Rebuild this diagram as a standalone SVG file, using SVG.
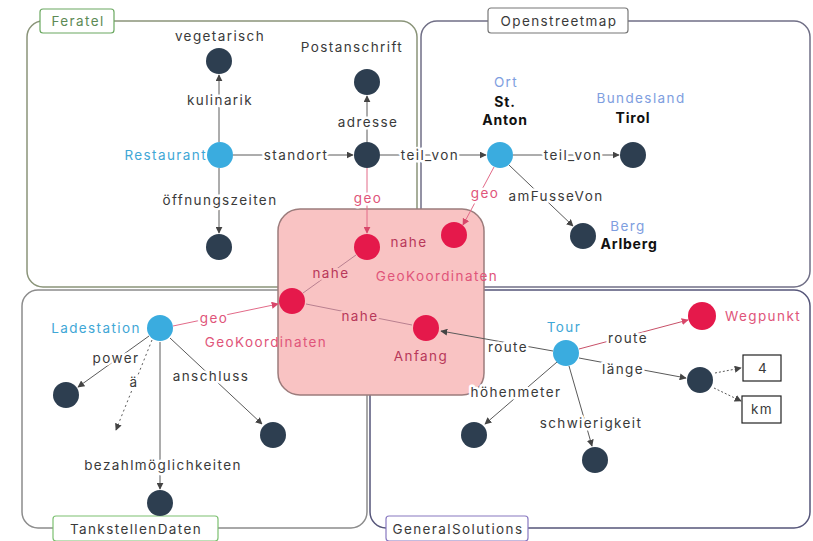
<svg xmlns="http://www.w3.org/2000/svg" width="813" height="541" viewBox="0 0 813 541">
  <defs>
    <marker id="arr" viewBox="0 0 10 10" refX="9" refY="5" markerWidth="7" markerHeight="7" orient="auto-start-reverse" markerUnits="userSpaceOnUse">
      <path d="M0,0 L10,5 L0,10 z" fill="#444"/>
    </marker>
    <marker id="arrp" viewBox="0 0 10 10" refX="9" refY="5" markerWidth="7" markerHeight="7" orient="auto-start-reverse" markerUnits="userSpaceOnUse">
      <path d="M0,0 L10,5 L0,10 z" fill="#d8476a"/>
    </marker>
    <style>
      text { font-family: Inter, "Open Sans", "DejaVu Sans", sans-serif; font-size: 13.5px; letter-spacing: 1.4px; text-anchor: middle; dominant-baseline: central; fill: #3a3a3a; }
      .h { paint-order: stroke; stroke: #fff; stroke-width: 5px; stroke-linejoin: round; }
      .hp { paint-order: stroke; stroke: #f9c3c3; stroke-width: 5px; stroke-linejoin: round; }
      .blue { fill: #3fa7d6; }
      .peri { fill: #7e9ee0; }
      .pink { fill: #e0557a; }
      .dpink { fill: #b8385a; }
      .bold { font-weight: 700; fill: #111; font-size: 14px; letter-spacing: 0.8px; }
      .dark { fill: #2d3e50; }
      .nblue { fill: #3aacdf; }
      .nred { fill: #e5194b; }
      .e { stroke: #5a5a5a; stroke-width: 1; fill: none; }
      .g { stroke: #e26a88; stroke-width: 1; fill: none; }
      .f { stroke: #b98090; stroke-width: 1; fill: none; }
      .a { marker-end: url(#arr); }
      .ap { marker-end: url(#arrp); }
      .grp { fill: none; stroke-width: 1.5; }
      .tag { fill: #fff; stroke-width: 1.2; }
      .val { fill: #fff; stroke: #222; stroke-width: 1.2; }
    </style>
  </defs>

  <!-- group frames -->
  <g id="frames">
    <rect class="grp" x="27" y="21" width="390" height="266" rx="16" stroke="#8a9479"/>
    <rect class="grp" x="421" y="21" width="389" height="266" rx="16" stroke="#706f86"/>
    <rect class="grp" x="22" y="290" width="345" height="238" rx="16" stroke="#8c8c8c"/>
    <rect class="grp" x="370" y="290" width="440" height="238" rx="16" stroke="#56567a"/>
  </g>

  <!-- shared coordinate area -->
  <rect id="geo-area" x="278" y="209" width="206" height="186" rx="22" fill="#f9c3c3" stroke="#9c7c7c" stroke-width="1.5"/>

  <!-- frame tags -->
  <g id="tag-feratel">
    <rect class="tag" x="40" y="9" width="74" height="24" rx="3" stroke="#6aa860"/>
    <text x="78" y="21" style="fill:#5d8a55">Feratel</text>
  </g>
  <g id="tag-osm">
    <rect class="tag" x="488" y="8" width="140" height="25" rx="3" stroke="#777"/>
    <text x="559" y="21">Openstreetmap</text>
  </g>
  <g id="tag-tankstellen">
    <rect class="tag" x="53" y="516" width="165" height="25" rx="3" stroke="#7cc070"/>
    <text x="136" y="529">TankstellenDaten</text>
  </g>
  <g id="tag-general">
    <rect class="tag" x="386" y="516" width="142" height="25" rx="3" stroke="#8878c0"/>
    <text x="458" y="529">GeneralSolutions</text>
  </g>

  <!-- connectors -->
  <g id="connectors">
    <path class="e a" d="M219,142 V75"/>
    <path class="e a" d="M219,168 V233"/>
    <path class="e a" d="M233,155 H353"/>
    <path class="e a" d="M367,142 V96"/>
    <path class="e a" d="M380,155 H486"/>
    <path class="e a" d="M513,155 H619"/>
    <path class="e a" d="M509,165 L573,226"/>
    <path class="g ap" d="M494,167 L463,225"/>
    <path class="g ap" d="M367,168 V233"/>
    <path class="f" d="M303,293 L356,255"/>
    <path class="f" d="M306,304 L412,325"/>
    <path class="g ap" d="M173,326 L278,304"/>
    <path class="e a" d="M553,351 L441,331"/>
    <path class="g ap" d="M579,349 L688,320" style="stroke:#c85068"/>
    <path class="e a" d="M579,358 L686,378"/>
    <path class="e a" d="M715,373 L741,368" stroke-dasharray="2 2"/>
    <path class="e a" d="M714,388 L741,401" stroke-dasharray="2 2"/>
    <path class="e a" d="M557,362 L485,424"/>
    <path class="e a" d="M569,366 L592,446"/>
    <path class="e a" d="M149,336 L78,387"/>
    <path class="e a" d="M152,340 L116,430" stroke-dasharray="2 3"/>
    <path class="e a" d="M170,338 L262,424"/>
    <path class="e a" d="M160,342 V489"/>

    <!-- connector labels -->
    <text class="h" x="220" y="100">kulinarik</text>
    <text class="h" x="220" y="200">öffnungszeiten</text>
    <text class="h" x="296" y="155">standort</text>
    <text class="h" x="368" y="122">adresse</text>
    <text class="h" x="430" y="155">teil_von</text>
    <text class="h" x="573" y="155">teil_von</text>
    <text class="h" x="556" y="196">amFusseVon</text>
    <text class="h pink" x="485" y="193">geo</text>
    <text class="h pink" x="368" y="198">geo</text>
    <text class="hp dpink" x="331" y="273">nahe</text>
    <text class="hp dpink" x="360" y="316">nahe</text>
    <text class="hp dpink" x="409" y="242">nahe</text>
    <text class="h pink" x="214" y="318">geo</text>
    <text class="h" x="508" y="347">route</text>
    <text class="h" x="628" y="338">route</text>
    <text class="h" x="623" y="369">länge</text>
    <text class="h" x="516" y="392">höhenmeter</text>
    <text class="h" x="591" y="423">schwierigkeit</text>
    <text class="h" x="116" y="358">power</text>
    <text class="h" x="134" y="382">ä</text>
    <text class="h" x="211" y="376">anschluss</text>
    <text class="h" x="163" y="465">bezahlmöglichkeiten</text>
  </g>

  <!-- Feratel nodes -->
  <g id="n-restaurant">
    <circle class="nblue" cx="220" cy="155" r="13"/>
    <text class="blue" x="207" y="155" style="text-anchor:end">Restaurant</text>
  </g>
  <g id="n-vegetarisch">
    <circle class="dark" cx="219" cy="61" r="13"/>
    <text x="220" y="36">vegetarisch</text>
  </g>
  <g id="n-oeffnungszeiten">
    <circle class="dark" cx="219" cy="247" r="13"/>
  </g>
  <g id="n-standort">
    <circle class="dark" cx="367" cy="155" r="13"/>
  </g>
  <g id="n-postanschrift">
    <circle class="dark" cx="367" cy="82" r="13"/>
    <text x="352" y="47">Postanschrift</text>
  </g>

  <!-- Openstreetmap nodes -->
  <g id="n-ort">
    <circle class="nblue" cx="500" cy="155" r="13"/>
    <text class="peri" x="506" y="82">Ort</text>
    <text class="bold" x="505" y="101">St.</text>
    <text class="bold" x="505" y="119">Anton</text>
  </g>
  <g id="n-bundesland">
    <circle class="dark" cx="633" cy="155" r="13"/>
    <text class="peri" x="641" y="98">Bundesland</text>
    <text class="bold" x="633" y="117">Tirol</text>
  </g>
  <g id="n-berg">
    <circle class="dark" cx="583" cy="236" r="13"/>
    <text class="peri" x="628" y="226">Berg</text>
    <text class="bold" x="629" y="243">Arlberg</text>
  </g>

  <!-- coordinate nodes -->
  <g id="n-geo-adresse">
    <circle class="nred" cx="367" cy="247" r="13"/>
  </g>
  <g id="n-geo-ort">
    <circle class="nred" cx="454" cy="235" r="13"/>
    <text class="pink" x="437" y="276">GeoKoordinaten</text>
  </g>
  <g id="n-geo-ladestation">
    <circle class="nred" cx="292" cy="301" r="13"/>
    <text class="pink" x="266" y="342">GeoKoordinaten</text>
  </g>
  <g id="n-anfang">
    <circle class="nred" cx="426" cy="328" r="13"/>
    <text class="dpink" x="421" y="356">Anfang</text>
  </g>

  <!-- TankstellenDaten nodes -->
  <g id="n-ladestation">
    <circle class="nblue" cx="160" cy="328" r="13"/>
    <text class="blue" x="96" y="328">Ladestation</text>
  </g>
  <g id="n-power">
    <circle class="dark" cx="66" cy="395" r="13"/>
  </g>
  <g id="n-anschluss">
    <circle class="dark" cx="273" cy="435" r="13"/>
  </g>
  <g id="n-bezahl">
    <circle class="dark" cx="160" cy="503" r="13"/>
  </g>

  <!-- GeneralSolutions nodes -->
  <g id="n-tour">
    <circle class="nblue" cx="566" cy="353" r="13"/>
    <text class="blue" x="564" y="327">Tour</text>
  </g>
  <g id="n-wegpunkt">
    <circle class="nred" cx="702" cy="316" r="14"/>
    <text class="pink" x="763" y="316">Wegpunkt</text>
  </g>
  <g id="n-laenge">
    <circle class="dark" cx="700" cy="380" r="13"/>
  </g>
  <g id="n-hoehenmeter">
    <circle class="dark" cx="474" cy="435" r="13"/>
  </g>
  <g id="n-schwierigkeit">
    <circle class="dark" cx="595" cy="460" r="13"/>
  </g>
  <g id="v-4">
    <rect class="val" x="743" y="355" width="38" height="26"/>
    <text x="763" y="368">4</text>
  </g>
  <g id="v-km">
    <rect class="val" x="742" y="396" width="39" height="27"/>
    <text x="762" y="409">km</text>
  </g>
</svg>
